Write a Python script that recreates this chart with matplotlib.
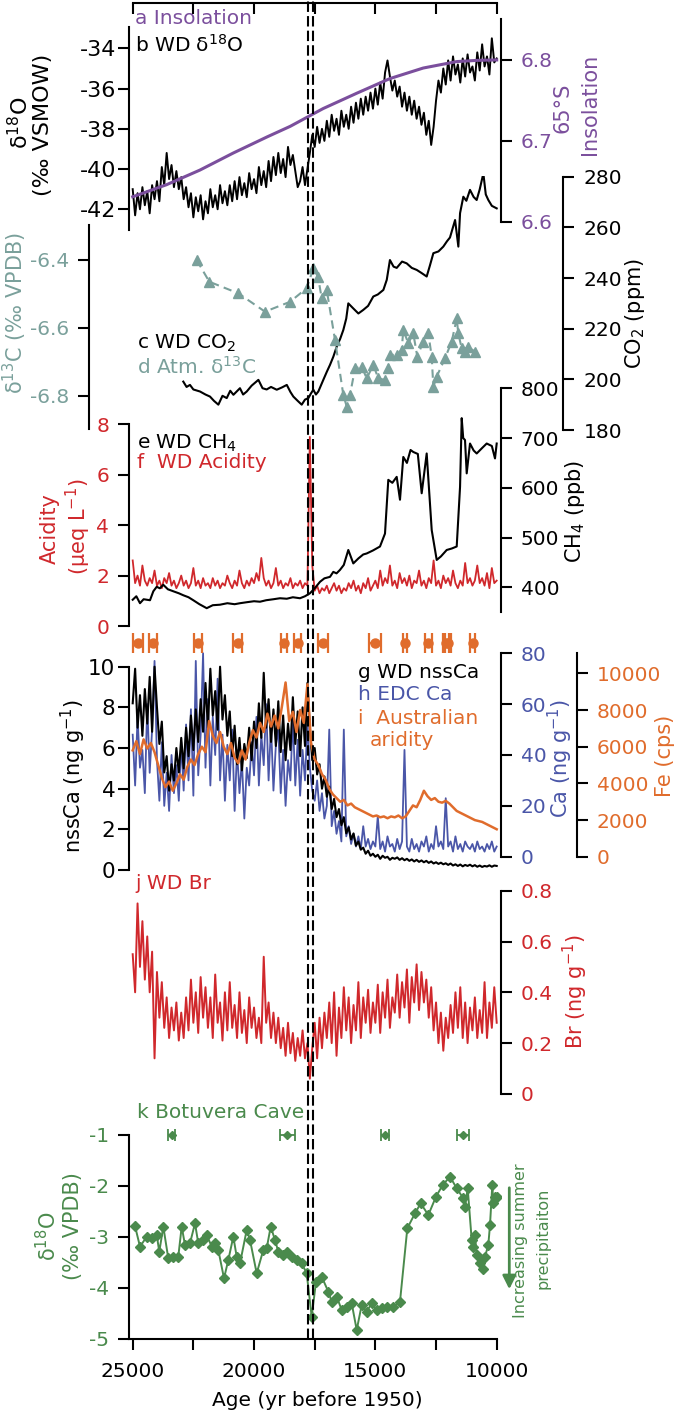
import numpy as np
import matplotlib
matplotlib.use('Agg')
import matplotlib.pyplot as plt
from matplotlib.patches import FancyArrowPatch
from matplotlib.ticker import FuncFormatter

# Figure size in pixels
W, H = 677, 1413

plt.rcParams['font.family'] = ['DejaVu Sans']
plt.rcParams['font.size'] = 14.5
plt.rcParams['axes.unicode_minus'] = False
plt.rcParams['mathtext.fontset'] = 'dejavusans'

PURPLE = '#7b4f9d'
TEAL = '#7aa09b'
RED = '#d0282c'
BLUE = '#4a56a8'
ORANGE = '#e06c2c'
GREEN = '#4a8a4c'

# ---------------- data ----------------
# regular sampling grids of the ice-core / sediment records
ICE_AGE = np.arange(25000, 9999, -100)
FE_AGE = np.arange(25000, 9999, -150)

wd_d18o = [-41.0, -42.3, -41.2, -42.0, -40.9, -41.8, -41.1, -42.2, -40.8, -41.5,
           -40.6, -41.6, -39.9, -40.8, -39.2, -40.5, -39.8, -40.9, -40.1, -41.0,
           -40.4, -41.5, -40.9, -41.9, -41.2, -42.4, -41.4, -42.1, -41.3, -42.5,
           -41.6, -42.2, -41.0, -41.9, -41.3, -42.0, -40.8, -41.7, -41.1, -41.8,
           -40.8, -41.6, -40.6, -41.5, -40.4, -41.3, -40.7, -41.4, -40.2, -41.0,
           -40.5, -41.2, -39.9, -40.8, -40.1, -40.9, -39.6, -40.6, -39.4, -40.3,
           -39.2, -40.2, -39.5, -40.4, -38.9, -39.8, -39.3, -40.1, -40.9, -40.6,
           -39.9, -40.8, -40.0, -39.2, -38.3, -38.9, -37.9, -38.7, -38.0, -38.6,
           -37.6, -38.4, -37.3, -38.1, -37.5, -38.3, -37.1, -37.9, -37.3, -38.0,
           -36.9, -37.7, -36.7, -37.5, -36.5, -37.3, -36.4, -37.1, -36.2, -37.0,
           -36.0, -36.8, -35.7, -36.5, -35.2, -34.6, -35.4, -36.1, -35.6, -36.4,
           -35.9, -36.9, -36.2, -37.1, -36.4, -37.3, -36.6, -37.5, -36.9, -37.8,
           -37.2, -38.3, -37.6, -38.8, -37.9, -36.6, -35.6, -36.2, -35.0, -35.8,
           -34.6, -35.6, -34.4, -35.3, -34.8, -35.7, -34.5, -35.4, -34.3, -35.2,
           -34.9, -35.6, -34.2, -35.1, -33.8, -34.9, -34.4, -35.3, -33.5, -34.7,
           -34.5]

insol_age = [25000, 23600, 22230, 20860, 19460, 18510, 17150, 15760, 14400,
             13030, 12340, 11640, 10800, 10000]
insolation = [6.631, 6.646, 6.664, 6.685, 6.705, 6.718, 6.740, 6.759, 6.777,
              6.790, 6.794, 6.798, 6.7995, 6.800]

co2_age = [22915, 22780, 22640, 22500, 22227, 22000, 21815, 21650, 21470, 21300,
           21125, 20980, 20850, 20580, 20450, 20300, 20100, 19820, 19650, 19480,
           19300, 19065, 18850, 18650, 18500, 18380, 18200, 18035, 17900, 17760,
           17650, 17555, 17450, 17350, 17145, 17000, 16870, 16730, 16590, 16450,
           16320, 16200, 16115, 15910, 15700, 15500, 15300, 15085, 14900, 14670,
           14530, 14400, 14250, 14120, 13900, 13710, 13500, 13295, 13100, 12885,
           12750, 12610, 12400, 12200, 12050, 11925, 11715, 11580, 11510, 11375,
           11250, 11100, 10950, 10825, 10700, 10550, 10450, 10345, 10200, 10000]
co2 = [199.1, 197.0, 197.8, 196.0, 195.2, 194.0, 193.2, 191.5, 190.0, 193.5,
       192.6, 195.5, 193.9, 196.5, 194.0, 195.2, 197.5, 199.8, 196.5, 196.0,
       197.0, 195.9, 196.8, 197.8, 195.0, 193.2, 191.5, 190.0, 192.0, 192.6,
       194.5, 195.9, 194.0, 195.2, 199.8, 203.0, 205.7, 209.0, 213.0, 216.0,
       219.5, 224.0, 230.0, 228.0, 226.0, 227.4, 229.0, 232.7, 233.5, 235.3,
       239.3, 247.1, 244.5, 244.0, 246.5, 245.8, 244.0, 243.2, 242.0, 240.6,
       245.0, 249.8, 250.5, 252.4, 254.5, 256.0, 262.9, 252.4, 265.6, 272.1,
       270.5, 274.8, 272.0, 270.8, 275.0, 281.3, 273.0, 270.8, 268.5, 267.5]

d13c_age = [22363, 21843, 20648, 19548, 18517, 17830, 17557, 17363, 17211, 17005,
            16663, 16320, 16180, 16045, 15839, 15563, 15357, 15085, 14879, 14603,
            14467, 14397, 14121, 13915, 13849, 13643, 13437, 13272, 13025, 12818,
            12678, 12612, 12472, 12130, 11854, 11648, 11582, 11442, 11306, 11170,
            10894]
d13c = [-6.400, -6.464, -6.498, -6.552, -6.523, -6.483, -6.425, -6.449, -6.513, -6.488,
        -6.635, -6.797, -6.831, -6.797, -6.719, -6.714, -6.748, -6.709, -6.748, -6.753,
        -6.719, -6.679, -6.679, -6.665, -6.606, -6.645, -6.616, -6.684, -6.640, -6.616,
        -6.684, -6.773, -6.743, -6.689, -6.640, -6.572, -6.616, -6.660, -6.670, -6.655,
        -6.670]

ch4_age = [25000, 24850, 24700, 24550, 24287, 24150, 24011, 23880, 23739, 23550,
           23327, 23100, 22915, 22700, 22503, 22250, 21950, 21700, 21403, 21100,
           20800, 20578, 20300, 20000, 19754, 19500, 19200, 18930, 18650, 18400,
           18106, 17900, 17694, 17500, 17282, 17100, 16870, 16733, 16600, 16457,
           16300, 16115, 15909, 15700, 15500, 15357, 15100, 14809, 14603, 14467,
           14300, 14121, 13985, 13849, 13700, 13550, 13437, 13250, 13091, 12885,
           12678, 12472, 12300, 12060, 11850, 11648, 11510, 11442, 11380, 11306,
           11236, 11100, 10950, 10824, 10600, 10412, 10200, 10070, 10000]
ch4 = [375, 382, 368, 376, 374, 392, 401, 398, 405, 396,
       392, 388, 384, 380, 374, 366, 358, 364, 365, 368,
       366, 368, 370, 372, 371, 374, 376, 378, 377, 380,
       378, 382, 388, 398, 411, 418, 421, 431, 428, 435,
       445, 475, 448, 458, 466, 468, 474, 482, 508, 616,
       610, 622, 576, 662, 650, 676, 672, 668, 589, 669,
       515, 455, 462, 475, 478, 482, 602, 740, 700, 696,
       629, 689, 675, 669, 680, 689, 684, 659, 689]

acidity = [2.6, 1.7, 2.0, 1.6, 2.4, 1.8, 1.6, 1.9, 1.7, 2.2,
           1.6, 1.8, 1.5, 1.9, 1.7, 2.1, 1.6, 1.8, 1.5, 1.7,
           2.0, 1.6, 1.8, 1.5, 1.7, 2.3, 1.6, 1.8, 1.5, 1.9,
           1.6, 1.7, 1.5, 1.9, 1.6, 1.8, 1.5, 1.7, 1.6, 2.0,
           1.7, 1.5, 1.8, 1.6, 2.2, 1.7, 1.5, 1.8, 1.6, 1.9,
           1.7, 2.1, 1.8, 2.7, 1.9, 1.6, 1.8, 1.5, 1.7, 2.3,
           1.6, 1.8, 1.5, 1.7, 1.6, 1.9, 1.5, 1.7, 1.6, 1.8,
           1.5, 1.7, 1.6, 7.5, 2.4, 1.4, 1.6, 1.3, 1.5, 1.4,
           1.6, 1.3, 1.5, 1.7, 1.4, 1.6, 1.3, 1.5, 1.4, 1.7,
           1.5, 1.8, 1.4, 1.6, 1.3, 1.7, 1.5, 1.9, 1.4, 1.6,
           1.8, 1.5, 2.2, 1.6, 1.9, 1.7, 2.4, 1.6, 1.8, 1.5,
           2.1, 1.7, 1.9, 1.6, 2.0, 1.5, 1.8, 1.7, 2.2, 1.6,
           1.8, 1.5, 1.9, 1.7, 2.6, 1.6, 1.8, 1.5, 2.0, 1.7,
           1.9, 1.6, 2.2, 1.7, 1.5, 1.8, 1.6, 2.5, 1.7, 1.9,
           1.6, 1.8, 2.4, 1.7, 1.9, 1.6, 2.1, 1.5, 2.3, 1.7,
           1.8]

nssca = [8.2, 9.9, 7.0, 8.6, 6.6, 8.9, 7.2, 9.5, 6.8, 10.0,
         8.0, 6.2, 7.3, 4.8, 5.6, 3.9, 5.2, 4.4, 6.0, 4.8,
         6.5, 5.0, 7.0, 5.6, 7.6, 5.9, 7.9, 6.3, 8.4, 6.8,
         9.2, 7.0, 9.9, 7.6, 8.8, 6.9, 10.0, 7.4, 8.6, 6.6,
         7.8, 5.6, 7.1, 5.2, 6.5, 4.9, 6.2, 5.5, 7.0, 5.4,
         7.3, 6.0, 8.2, 6.5, 9.7, 7.0, 8.4, 6.3, 7.9, 6.1,
         8.3, 5.8, 7.6, 5.4, 7.2, 5.9, 8.5, 6.2, 7.8, 5.6,
         8.0, 6.1, 9.2, 7.0, 5.4, 6.0, 4.7, 5.2, 4.0, 4.6,
         3.6, 4.1, 3.0, 3.5, 2.6, 3.0, 2.2, 2.6, 1.8, 2.1,
         1.5, 1.8, 1.2, 1.4, 1.0, 1.1, 0.8, 0.95, 0.7, 0.8,
         0.65, 0.75, 0.55, 0.7, 0.6, 0.65, 0.5, 0.6, 0.55, 0.62,
         0.5, 0.58, 0.48, 0.55, 0.45, 0.52, 0.42, 0.5, 0.4, 0.47,
         0.38, 0.45, 0.35, 0.42, 0.32, 0.38, 0.3, 0.36, 0.28, 0.33,
         0.25, 0.32, 0.22, 0.28, 0.2, 0.27, 0.18, 0.25, 0.2, 0.26,
         0.18, 0.24, 0.16, 0.22, 0.15, 0.2, 0.17, 0.23, 0.16, 0.22,
         0.2]

edc_ca = [48, 28, 55, 35, 42, 25, 60, 33, 50, 77,
          38, 22, 45, 20, 33, 18, 40, 25, 36, 22,
          45, 26, 52, 30, 58, 24, 77, 32, 48, 80,
          35, 62, 28, 55, 40, 70, 30, 48, 22, 44,
          30, 50, 18, 42, 25, 38, 15, 35, 28, 45,
          32, 55, 28, 48, 36, 60, 30, 52, 26, 44,
          50, 25, 42, 20, 38, 30, 55, 28, 46, 24,
          42, 30, 52, 35, 26, 22, 30, 18, 25, 15,
          20, 50, 12, 18, 9, 14, 6, 50, 8, 12,
          5, 9, 4, 8, 3, 12, 4, 7, 3, 6,
          4, 16, 3, 6, 2, 8, 4, 5, 2, 7,
          3, 6, 42, 4, 2, 7, 3, 5, 2, 6,
          4, 8, 2, 5, 3, 12, 4, 6, 3, 23,
          4, 6, 2, 8, 3, 5, 2, 6, 4, 3,
          5, 2, 6, 3, 4, 2, 5, 3, 6, 2,
          4]

fe = [5800, 6300, 5600, 6400, 5900, 6200, 5700,
      5000, 4300, 3800, 4100, 3600, 4000,
      4500, 4200, 4900, 5300, 5000, 5600,
      6000, 5700, 7400, 6600, 6200, 6800, 6000,
      5600, 6200, 5400, 5100, 5800, 5300,
      6200, 6900, 6500, 7300, 6800, 7800, 7100,
      7700, 7000, 8200, 9500, 7400, 7900, 6800,
      8000, 7300, 9400, 6200,
      5300, 5000, 4500, 4200, 3700, 3400,
      3200, 3000, 3100, 2800, 2900, 2700,
      2600, 2500, 2400, 2300, 2200, 2250,
      2150, 2200, 2100, 2200, 2150, 2250, 2100, 2200, 2500, 2800, 2700, 3100, 3600,
      3300, 3100, 3200, 3000, 2950, 3050, 2900, 2700, 2500, 2400,
      2300, 2200, 2100, 2000, 1950, 1900, 1800, 1700, 1600, 1500]

br = [0.55, 0.40, 0.75, 0.50, 0.68, 0.45, 0.62, 0.40, 0.56, 0.14,
      0.48, 0.30, 0.44, 0.26, 0.38, 0.22, 0.34, 0.25, 0.36, 0.21,
      0.32, 0.22, 0.38, 0.25, 0.45, 0.28, 0.40, 0.24, 0.46, 0.30,
      0.42, 0.26, 0.38, 0.22, 0.47, 0.28, 0.36, 0.21, 0.40, 0.25,
      0.44, 0.26, 0.35, 0.22, 0.40, 0.24, 0.33, 0.20, 0.38, 0.26,
      0.34, 0.22, 0.30, 0.20, 0.54, 0.28, 0.36, 0.22, 0.32, 0.20,
      0.30, 0.18, 0.26, 0.15, 0.28, 0.16, 0.24, 0.13, 0.22, 0.15,
      0.25, 0.14, 0.20, 0.06, 0.18, 0.28, 0.14, 0.30, 0.18, 0.32,
      0.22, 0.36, 0.20, 0.40, 0.15, 0.34, 0.22, 0.42, 0.25, 0.38,
      0.20, 0.35, 0.25, 0.44, 0.22, 0.38, 0.28, 0.41, 0.24, 0.36,
      0.28, 0.43, 0.24, 0.40, 0.30, 0.45, 0.26, 0.38, 0.32, 0.47,
      0.30, 0.44, 0.34, 0.49, 0.28, 0.46, 0.36, 0.51, 0.33, 0.48,
      0.36, 0.45, 0.30, 0.42, 0.25, 0.36, 0.20, 0.32, 0.17, 0.30,
      0.22, 0.35, 0.24, 0.40, 0.26, 0.42, 0.22, 0.36, 0.20, 0.34,
      0.25, 0.38, 0.22, 0.33, 0.24, 0.44, 0.22, 0.36, 0.26, 0.42,
      0.28]

bot_age = [24905, 24699, 24423, 24217, 24011, 23904, 23739, 23533, 23327, 23121,
           22981, 22845, 22639, 22433, 22297, 22091, 21950, 21744, 21608, 21472,
           21237, 21060, 20854, 20714, 20578, 20302, 20166, 19890, 19618, 19478,
           19313, 19136, 19000, 18794, 18654, 18448, 18242, 18035, 17830, 17624,
           17446, 17211, 16939, 16799, 16593, 16387, 16181, 15975, 15769, 15563,
           15357, 15151, 14945, 14739, 14533, 14261, 13985, 13683, 13366, 13132,
           12818, 12501, 12225, 11924, 11648, 11376, 11306, 11195, 11030, 10964,
           10894, 10824, 10688, 10576, 10482, 10346, 10276, 10181, 10140, 10070,
           10000]
bot_d18o = [-2.787, -3.193, -2.997, -3.029, -2.963, -3.291, -2.800, -3.422, -3.389, -3.389,
            -2.800, -3.160, -3.127, -2.734, -3.127, -3.062, -2.963, -3.193, -3.127, -3.258,
            -3.814, -3.454, -2.997, -3.389, -3.520, -2.865, -3.062, -3.716, -3.258, -3.225,
            -2.800, -3.062, -3.291, -3.356, -3.291, -3.389, -3.454, -3.520, -3.716, -4.568,
            -3.880, -3.782, -4.077, -4.273, -4.175, -4.436, -4.371, -4.305, -4.829, -4.338,
            -4.469, -4.305, -4.436, -4.403, -4.371, -4.371, -4.273, -2.832, -2.538, -2.341,
            -2.571, -2.211, -1.982, -1.818, -2.047, -2.243, -2.407, -2.047, -3.062, -3.193,
            -2.963, -3.356, -3.520, -3.637, -3.389, -3.160, -2.767, -1.982, -2.341, -2.211,
            -2.211]

# age control points (with uncertainty)
fe_date_age = [24794, 24151, 22321, 20673, 18765, 18200, 17145, 15015, 13778,
               12818, 12100, 12020, 10990]
fe_date_err = [200, 170, 170, 190, 130, 150, 200, 235, 100, 140, 120, 120, 110]
bot_date_age = [23393, 18629, 14603, 11400]
bot_date_err = [150, 300, 165, 240]

# transition bracket
dashed_ages = [17770, 17560]

# ---------------- layout helpers ----------------
X_LEFT, X_RIGHT = 25140, 9835
fig = plt.figure(figsize=(W / 100, H / 100), dpi=100)


def panel(top, bottom, left=129.3, right=500.7):
    ax = fig.add_axes([left / W, 1 - bottom / H, (right - left) / W, (bottom - top) / H])
    ax.patch.set_alpha(0)
    ax.set_xlim(X_LEFT, X_RIGHT)
    for s in ax.spines.values():
        s.set_visible(False)
    ax.tick_params(axis='x', which='both', bottom=False, top=False,
                   labelbottom=False, labeltop=False)
    ax.set_yticks([])
    return ax


def yaxis(ax, side, ylim, bounds, ticks, color='black', pad=6.5, offset=0, size=14.5):
    ax.set_ylim(*ylim)
    sp = ax.spines[side]
    sp.set_visible(True)
    sp.set_bounds(*bounds)
    sp.set_linewidth(1.5)
    if offset:
        sp.set_position(('outward', offset))
    if side == 'right':
        ax.yaxis.tick_right()
    else:
        ax.yaxis.tick_left()
    ax.set_yticks(ticks)
    ax.yaxis.set_major_formatter(FuncFormatter(lambda v, p: f'{v:g}'))
    ax.tick_params(axis='y', direction='out', length=8, width=1.5,
                   labelcolor=color, pad=pad, labelsize=size)


def ftext(x, y, s, **kw):
    kw.setdefault('va', 'center')
    return fig.text(x / W, 1 - y / H, s, **kw)


def vlabel(x, y, s, **kw):
    kw.setdefault('fontsize', 15)
    return ftext(x, y, s, rotation=90, ha='center', **kw)


# ---------------- a / b ----------------
axB = panel(2.7, 230)
axB.plot(ICE_AGE, wd_d18o, color='black', lw=1.4)
yaxis(axB, 'left', (-43.03, -31.73), (-43.03, -32.93), [-42, -40, -38, -36, -34],
      pad=1.5, size=16)
axB.spines['top'].set_visible(True)
axB.spines['top'].set_linewidth(1.5)
axB.spines['top'].set_bounds(25000, 10000)
axB.set_xticks([25000, 22500, 20000, 17500, 15000, 12500, 10000])
axB.tick_params(axis='x', top=True, labeltop=False, direction='in', length=8, width=1.5)

axA = panel(2.7, 230)
axA.plot(insol_age, insolation, color=PURPLE, lw=2.2)
yaxis(axA, 'right', (6.590, 6.8707), (6.6, 6.85), [6.6, 6.7, 6.8], color=PURPLE)

ftext(135, 19, 'a Insolation', color=PURPLE)
ftext(135, 45, r'b WD δ$^{\mathregular{18}}$O', color='black')
vlabel(20, 123, r'δ$^{\mathregular{18}}$O', fontsize=16)
vlabel(43, 125, '(‰ VSMOW)', fontsize=16)
vlabel(563, 108, '65°S', color=PURPLE)
vlabel(590, 104, 'Insolation', color=PURPLE)

# ---------------- c / d ----------------
axCO2 = panel(176, 430)
axCO2.plot(co2_age, co2, color='black', lw=1.5)
yaxis(axCO2, 'right', (180.08, 280.28), (180, 280), [180, 200, 220, 240, 260, 280], offset=45)

axD13 = panel(176, 430)
axD13.plot(d13c_age, d13c, color=TEAL, lw=1.5, ls=(0, (4, 2.5)), marker='^',
           ms=7, mfc=TEAL, mec=TEAL)
yaxis(axD13, 'left', (-6.9, -6.153), (-6.898, -6.298), [-6.8, -6.6, -6.4],
      color=TEAL, offset=28.8)

ftext(137, 343, r'c WD CO$_{\mathregular{2}}$', color='black')
ftext(137, 367, r'd Atm. δ$^{\mathregular{13}}$C', color=TEAL)
vlabel(15, 313, r'δ$^{\mathregular{13}}$C (‰ VPDB)', color=TEAL)
vlabel(635, 313, r'CO$_{\mathregular{2}}$ (ppm)', color='black')

# ---------------- e / f ----------------
axAc = panel(388, 626)
axAc.plot(ICE_AGE, acidity, color=RED, lw=1.3)
yaxis(axAc, 'left', (0, 9.44), (0, 8), [0, 2, 4, 6, 8], color=RED)

axCH4 = panel(388, 626)
axCH4.plot(ch4_age, ch4, color='black', lw=1.5)
yaxis(axCH4, 'right', (322.2, 800.6), (351, 800), [400, 500, 600, 700, 800])

ftext(137, 443, r'e WD CH$_{\mathregular{4}}$', color='black')
ftext(137, 463, 'f  WD Acidity', color=RED)
vlabel(50, 529, 'Acidity', color=RED)
vlabel(78, 527, r'(μeq L$^{\mathregular{-1}}$)', color=RED)
vlabel(575, 511, r'CH$_{\mathregular{4}}$ (ppb)', color='black')

# ---------------- g / h / i ----------------
axCa = panel(630, 870)
axCa.plot(ICE_AGE, edc_ca, color=BLUE, lw=1.3)
yaxis(axCa, 'right', (-5.23, 89.16), (0, 80), [0, 20, 40, 60, 80], color=BLUE)

axNss = panel(630, 870)
axNss.plot(ICE_AGE, nssca, color='black', lw=1.5)
yaxis(axNss, 'left', (0, 11.805), (0, 10), [0, 2, 4, 6, 8, 10], pad=2, size=15.5)
axNss.errorbar(fe_date_age, [11.17] * len(fe_date_age), xerr=fe_date_err, fmt='o',
               color=ORANGE, ms=6.5, capsize=7, capthick=1.6, elinewidth=1.6,
               clip_on=False)

axFe = panel(630, 870)
axFe.plot(FE_AGE, fe, color=ORANGE, lw=1.8)
yaxis(axFe, 'right', (-720, 12360), (0, 11090), [0, 2000, 4000, 6000, 8000, 10000],
      color=ORANGE, offset=54.7)

ftext(358, 672, 'g WD nssCa', color='black')
ftext(358, 695, 'h EDC Ca', color=BLUE)
ftext(358, 718, 'i  Australian', color=ORANGE)
ftext(370, 740, 'aridity', color=ORANGE)
vlabel(73, 776, r'nssCa (ng g$^{\mathregular{-1}}$)', color='black')
vlabel(560, 758, r'Ca (ng g$^{\mathregular{-1}}$)', color=BLUE)
vlabel(665, 756, 'Fe (cps)', color=ORANGE)

# ---------------- j ----------------
axBr = panel(870, 1100)
axBr.plot(ICE_AGE, br, color=RED, lw=1.4)
yaxis(axBr, 'right', (-0.024, 0.8815), (0, 0.8), [0, 0.2, 0.4, 0.6, 0.8], color=RED)
ftext(135, 883, 'j WD Br', color=RED)
vlabel(575, 992, r'Br (ng g$^{\mathregular{-1}}$)', color=RED)

# ---------------- k ----------------
axK = panel(1100, 1338.7)
axK.plot(bot_age, bot_d18o, color=GREEN, lw=1.4, marker='D', ms=5.5, mfc=GREEN, mec=GREEN)
yaxis(axK, 'left', (-5.0, -0.313), (-5, -1), [-5, -4, -3, -2, -1], color=GREEN)
axK.errorbar(bot_date_age, [-1] * len(bot_date_age), xerr=bot_date_err, fmt='D',
             color=GREEN, ms=4.5, capsize=4.3, capthick=1.3, elinewidth=1.3)
axK.spines['bottom'].set_visible(True)
axK.spines['bottom'].set_linewidth(1.5)
axK.spines['bottom'].set_bounds(X_LEFT, 10000)
axK.set_xticks([25000, 20000, 15000, 10000])
axK.set_xticklabels(['25000', '20000', '15000', '10000'])
axK.set_xticks([22500, 17500, 12500], minor=True)
axK.tick_params(axis='x', which='both', bottom=True, labelbottom=True, direction='out',
                length=8, width=1.5, pad=9, labelsize=14.5)

ftext(137, 1112, 'k Botuvera Cave', color=GREEN)
vlabel(48, 1236, r'δ$^{\mathregular{18}}$O', color=GREEN)
vlabel(73, 1226, '(‰ VPDB)', color=GREEN)
vlabel(521, 1241, 'Increasing summer', color=GREEN, fontsize=11.5)
vlabel(543, 1238, 'precipitaiton', color=GREEN, fontsize=11.5)
fig.add_artist(FancyArrowPatch(
    (509.3 / W, 1 - 1185 / H), (509.3 / W, 1 - 1292 / H), transform=fig.transFigure,
    arrowstyle='-|>', mutation_scale=20, color=GREEN, lw=2))

ftext(317, 1400, 'Age (yr before 1950)', ha='center')

# ---------------- dashed transition lines ----------------
axV = panel(0, 1338.7)
axV.set_ylim(0, 1)
axV.vlines(dashed_ages, 0, 1, colors='black', linestyles=(0, (5, 2)), lw=1.5)

fig.savefig('out.png', dpi=100)
